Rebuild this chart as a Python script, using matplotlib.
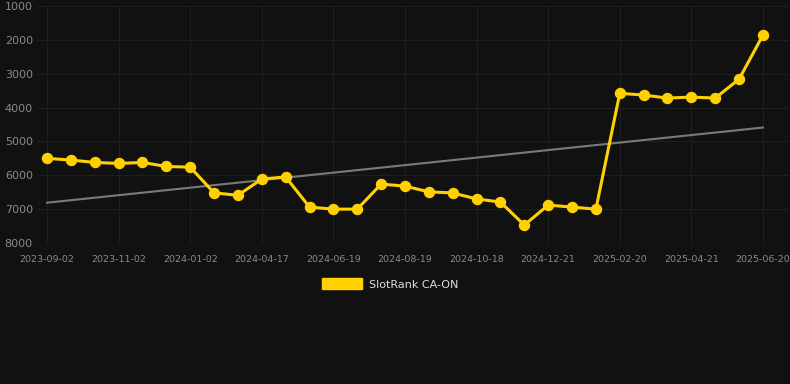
import numpy as np
import matplotlib
matplotlib.use("Agg")
import matplotlib.pyplot as plt
from matplotlib.patches import Patch

dates = ["2023-09-02", "", "", "2023-11-02", "", "", "2024-01-02", "", "", "2024-04-17",
         "", "", "2024-06-19", "", "", "2024-08-19", "", "", "2024-10-18", "", "",
         "2024-12-21", "", "", "2025-02-20", "", "", "2025-04-21", "", "", "2025-06-20"]
ranks = [5500, 5550, 5620, 5650, 5620, 5740, 5760, 6520, 6590, 6110, 6050, 6940, 7000, 7000,
         6260, 6320, 6490, 6520, 6700, 6790, 7470, 6880, 6940, 7000, 3580, 3630, 3720, 3690,
         3720, 3160, 1860]
trend_ends = [6810, 4590]
yticks = [1000, 2000, 3000, 4000, 5000, 6000, 7000, 8000]
series_name = "SlotRank CA-ON"

BG = "#111111"
GOLD = "#FFD100"

fig = plt.figure(figsize=(7.9, 3.84), dpi=100, facecolor=BG)
ax = fig.add_axes([37/790, 1-243/384, (788-37)/790, (243-6)/384])
ax.set_facecolor(BG)

x = np.arange(len(ranks))
ax.plot([x[0], x[-1]], trend_ends, color="#7a7a7a", lw=1.5, zorder=2)
ax.plot(x, ranks, color=GOLD, lw=2.2, marker="o", ms=7.2, zorder=3)

ax.set_ylim(8000, 1000)
ax.set_xlim(-0.42, 31.05)
ax.set_yticks(yticks)
ax.set_yticklabels([str(v) for v in yticks])
tick_idx = [i for i, d in enumerate(dates) if d]
ax.set_xticks(tick_idx)
ax.set_xticklabels([dates[i] for i in tick_idx])
ax.tick_params(axis="y", length=0, pad=3, labelsize=8, labelcolor="#8a8a8a")
ax.tick_params(axis="x", length=0, pad=9, labelsize=6.8, labelcolor="#8a8a8a")
ax.grid(True, color="#1f1f1f", lw=0.8)
ax.set_axisbelow(True)
for s in ax.spines.values():
    s.set_visible(False)

fig.legend(handles=[Patch(facecolor=GOLD, edgecolor=GOLD)], labels=[series_name],
           loc="center", bbox_to_anchor=(390/790, 1-284/384), frameon=False,
           handlelength=3.6, handleheight=1.1, handletextpad=0.6,
           fontsize=8, labelcolor="#dddddd")

fig.savefig("out.png", dpi=100, facecolor=BG)
